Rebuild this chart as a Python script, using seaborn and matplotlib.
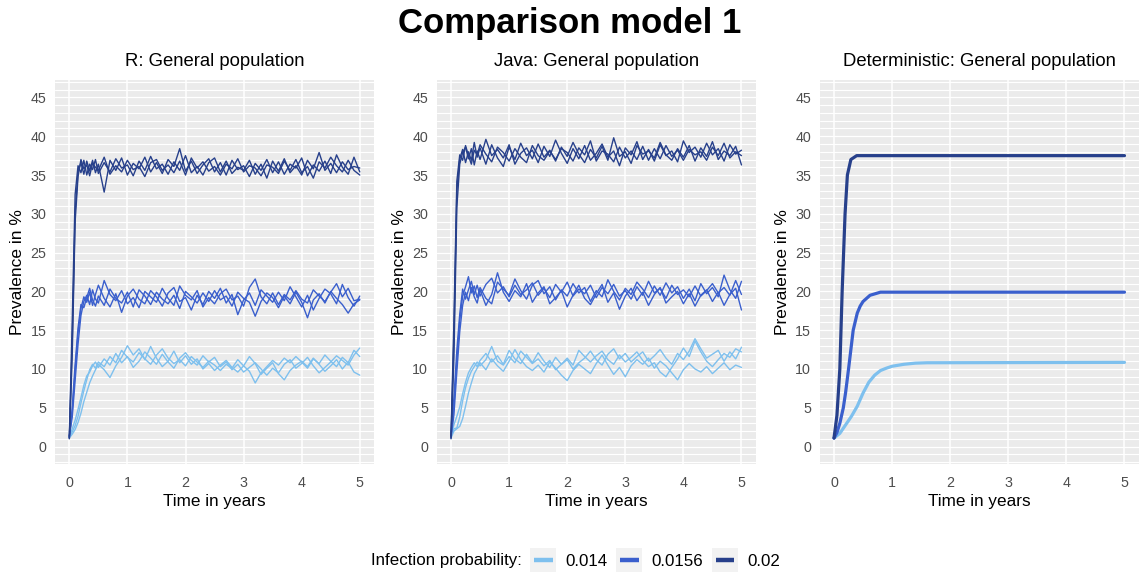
import numpy as np
import pandas as pd
import matplotlib
matplotlib.use("Agg")
import matplotlib.pyplot as plt
import seaborn as sns
from matplotlib.ticker import MultipleLocator
from matplotlib.lines import Line2D
from matplotlib.patches import Rectangle
from matplotlib.legend_handler import HandlerBase

# ---------------------------------------------------------------- data
LEVELS = ["0.014", "0.0156", "0.02"]
COLORS = ["#7EC0EE", "#3A5FCD", "#27408B"]
PANEL_TITLES = ["R: General population", "Java: General population",
                "Deterministic: General population"]
X_TICKS = [0, 1, 2, 3, 4, 5]
Y_TICKS = [0, 5, 10, 15, 20, 25, 30, 35, 40, 45]

# sampling times (years) of the stochastic runs
TIME_YEARS = [0.0, 0.05, 0.1, 0.15, 0.2, 0.25, 0.3, 0.35, 0.4, 0.45,
              0.5, 0.6, 0.7, 0.8, 0.9, 1.0, 1.1, 1.2, 1.3, 1.4,
              1.5, 1.6, 1.7, 1.8, 1.9, 2.0, 2.1, 2.2, 2.3, 2.4,
              2.5, 2.6, 2.7, 2.8, 2.9, 3.0, 3.1, 3.2, 3.3, 3.4,
              3.5, 3.6, 3.7, 3.8, 3.9, 4.0, 4.1, 4.2, 4.3, 4.4,
              4.5, 4.6, 4.7, 4.8, 4.9, 5.0]

# R simulation, prevalence in %
R_LOW_1 = [1.2, 1.9, 2.7, 3.9, 5.6, 7.2, 8.6, 9.9, 10.6, 10.1,
           10.9, 10.3, 11.6, 10.8, 12.4, 11.5, 10.9, 12.1, 11.3, 10.6,
           11.8, 12.6, 11.4, 10.7, 11.2, 10.4, 11.6, 10.9, 10.2, 11.0,
           10.5, 9.8, 10.6, 10.1, 11.2, 10.4, 9.7, 8.2, 9.5, 10.3,
           11.1, 10.5, 11.4, 10.8, 11.6, 10.9, 10.1, 11.3, 10.7, 11.8,
           11.0, 10.3, 11.5, 10.8, 12.4, 11.6]
R_LOW_2 = [1.1, 1.6, 2.2, 3.1, 4.3, 5.8, 7.0, 8.2, 9.1, 9.9,
           10.6, 9.9, 8.9, 10.4, 11.5, 13.0, 11.8, 12.6, 11.2, 12.9,
           11.4, 10.3, 11.0, 12.3, 10.8, 11.7, 10.6, 11.3, 10.0, 10.7,
           9.8, 10.5, 11.1, 10.2, 9.6, 10.4, 11.6, 10.7, 9.3, 10.1,
           10.8, 9.4, 8.6, 9.8, 10.5, 11.0, 10.3, 11.4, 10.6, 9.7,
           10.4, 11.2, 10.0, 10.9, 9.6, 9.2]
R_LOW_3 = [1.3, 2.3, 3.4, 4.8, 6.3, 7.9, 9.1, 9.6, 10.4, 10.9,
           10.2, 11.3, 10.5, 12.0, 10.8, 11.6, 10.2, 11.0, 12.2, 11.4,
           10.6, 11.9, 10.9, 10.1, 11.4, 12.1, 11.1, 10.5, 11.7, 10.9,
           11.5, 10.3, 10.9, 9.9, 10.6, 9.6, 10.2, 10.8, 10.0, 9.2,
           10.1, 9.5, 10.6, 11.2, 10.1, 10.7, 11.5, 10.4, 9.5, 10.2,
           10.9, 11.7, 11.1, 10.5, 11.8, 12.7]
R_MID_1 = [1.2, 4.5, 9.8, 14.6, 17.8, 19.3, 18.6, 19.9, 18.2, 19.6,
           20.8, 19.1, 18.0, 19.7, 17.3, 19.4, 20.3, 19.0, 18.4, 20.1,
           19.3, 18.1, 19.8, 20.5, 18.7, 19.2, 17.6, 19.5, 18.3, 20.0,
           19.1, 20.4, 18.5, 19.6, 17.0, 18.9, 19.8, 18.2, 20.2, 19.4,
           18.6, 19.9, 18.8, 20.6, 19.3, 18.0, 19.5, 17.6, 19.1, 20.3,
           19.7, 18.4, 20.9, 19.2, 18.1, 19.4]
R_MID_2 = [1.4, 3.8, 8.5, 13.2, 16.9, 18.7, 19.5, 18.3, 20.2, 19.0,
           18.5, 21.4, 19.6, 18.8, 20.1, 18.4, 19.2, 17.9, 20.0, 19.3,
           18.6, 20.4, 19.1, 18.2, 20.7, 19.5, 18.9, 20.1, 18.0, 19.2,
           18.4, 19.7, 20.3, 18.9, 19.4, 18.1, 20.5, 21.6, 19.3, 18.4,
           19.8, 18.3, 19.6, 18.9, 20.1, 19.0, 18.5, 20.2, 19.4, 18.7,
           19.9, 21.0, 19.3, 20.4, 18.8, 19.0]
R_MID_3 = [1.1, 5.0, 10.6, 15.3, 18.3, 17.9, 19.2, 20.4, 18.9, 18.1,
           19.4, 18.2, 20.3, 19.1, 18.5, 19.9, 18.0, 20.2, 19.4, 18.3,
           19.9, 19.0, 18.4, 19.5, 17.8, 20.0, 19.3, 18.5, 19.8, 18.7,
           20.1, 18.9, 19.4, 18.1, 19.9, 19.1, 18.6, 16.8, 18.7, 19.8,
           19.2, 17.9, 19.4, 18.4, 19.9, 18.6, 16.6, 18.9, 19.7, 18.5,
           20.0, 19.1, 18.3, 17.2, 18.4, 18.9]
R_HIGH_1 = [1.1, 13.5, 30.2, 35.4, 36.6, 35.1, 36.8, 35.5, 36.9, 35.3,
            36.4, 32.8, 36.9, 35.6, 37.2, 35.0, 36.5, 35.8, 37.3, 35.4,
            36.6, 35.2, 37.0, 36.1, 38.4, 35.5, 36.8, 35.2, 36.3, 37.1,
            35.4, 36.6, 35.0, 36.9, 35.7, 36.2, 34.8, 36.5, 35.6, 37.0,
            35.3, 36.7, 35.1, 36.4, 35.9, 37.2, 34.9, 36.3, 35.5, 36.8,
            35.2, 37.6, 36.0, 35.1, 37.3, 35.4]
R_HIGH_2 = [1.3, 16.1, 32.5, 36.2, 35.3, 36.9, 35.0, 36.4, 35.7, 37.0,
            35.2, 36.6, 35.4, 37.1, 35.9, 36.3, 34.9, 36.8, 35.6, 37.4,
            35.8, 36.4, 35.1, 36.7, 35.6, 37.5, 35.3, 36.1, 35.0, 36.6,
            37.2, 35.4, 36.8, 35.2, 36.0, 35.6, 36.9, 35.1, 36.4, 34.6,
            36.8, 35.5, 37.1, 35.3, 36.2, 35.0, 36.9, 35.8, 37.9, 35.6,
            36.5, 35.3, 36.7, 35.7, 36.1, 35.9]
R_HIGH_3 = [1.0, 11.8, 29.0, 34.8, 37.0, 35.8, 36.3, 34.9, 36.5, 36.0,
            35.6, 37.3, 35.1, 36.2, 35.4, 36.9, 35.7, 36.1, 34.8, 36.6,
            37.0, 35.6, 36.3, 35.3, 36.8, 35.0, 37.2, 35.9, 36.7, 35.5,
            36.1, 35.0, 36.4, 35.8, 37.1, 35.4, 36.2, 35.9, 34.9, 36.3,
            36.0, 35.2, 36.8, 35.6, 37.0, 35.3, 36.1, 34.6, 36.7, 35.9,
            37.3, 36.2, 35.4, 36.9, 35.6, 35.0]

# Java simulation, prevalence in %
J_LOW_1 = [1.3, 2.3, 2.4, 3.8, 5.9, 7.6, 8.8, 9.7, 10.3, 10.9,
           10.4, 11.2, 12.9, 11.0, 10.5, 11.6, 10.8, 12.3, 11.5, 10.7,
           11.3, 10.4, 11.1, 9.9, 10.6, 11.4, 10.5, 12.4, 11.6, 10.9,
           11.7, 12.3, 11.2, 10.6, 11.8, 10.9, 11.5, 12.2, 11.1, 10.3,
           10.8, 9.6, 9.0, 10.2, 11.3, 12.7, 11.6, 13.6, 12.2, 11.0,
           10.3, 11.2, 12.0, 11.5, 12.6, 12.2]
J_LOW_2 = [1.1, 2.0, 2.3, 2.6, 3.6, 5.2, 6.9, 8.2, 9.4, 10.1,
           10.8, 9.9, 11.3, 10.4, 9.7, 11.0, 12.5, 11.2, 10.3, 9.8,
           10.5, 9.6, 10.9, 10.1, 9.2, 8.5, 9.8, 10.6, 10.0, 9.4,
           10.7, 11.8, 10.5, 9.3, 10.2, 9.0, 10.4, 11.2, 10.6, 11.4,
           10.1, 11.0, 10.4, 9.5, 8.6, 9.9, 10.7, 10.0, 9.6, 10.3,
           9.4, 10.1, 10.8, 9.9, 10.5, 10.2]
J_LOW_3 = [1.4, 2.8, 3.9, 5.1, 6.8, 8.3, 9.5, 10.2, 10.8, 10.3,
           11.1, 12.0, 10.9, 11.7, 10.6, 12.4, 11.3, 10.7, 11.9, 10.8,
           12.1, 11.0, 10.2, 11.5, 10.6, 11.2, 10.0, 10.8, 11.4, 12.3,
           11.2, 10.5, 11.9, 12.6, 11.3, 12.0, 10.9, 11.6, 12.2, 11.0,
           11.7, 12.5, 11.4, 10.6, 12.0, 11.2, 12.3, 13.9, 12.6, 11.4,
           11.9, 12.4, 11.0, 12.2, 11.3, 12.8]
J_MID_1 = [1.3, 5.2, 11.0, 16.2, 19.4, 20.6, 21.9, 19.8, 20.7, 19.2,
           20.5, 19.1, 18.4, 21.2, 20.3, 19.5, 21.6, 20.1, 19.0, 20.8,
           21.4, 19.7, 20.6, 18.9, 20.2, 19.4, 21.0, 19.8, 20.5, 18.7,
           20.1, 19.3, 21.5, 20.0, 18.9, 20.4, 19.6, 21.2, 20.3, 19.2,
           20.7, 19.5, 21.1, 19.8, 20.6, 19.1, 20.3, 18.8, 21.0, 19.7,
           20.5, 19.3, 22.1, 20.2, 19.1, 21.3]
J_MID_2 = [1.1, 4.1, 9.6, 14.8, 18.2, 19.9, 18.8, 20.5, 19.3, 18.5,
           20.2, 18.2, 19.6, 22.4, 19.9, 18.7, 20.1, 19.3, 21.0, 18.6,
           19.8, 20.6, 18.4, 19.2, 20.1, 18.0, 19.5, 20.8, 19.1, 18.3,
           19.7, 20.9, 18.6, 19.8, 17.7, 19.4, 20.4, 18.8, 19.9, 18.2,
           19.6, 20.5, 18.5, 19.3, 20.0, 18.4, 19.7, 18.1, 19.5, 20.2,
           18.7, 19.9, 18.2, 19.6, 20.4, 17.6]
J_MID_3 = [1.5, 6.3, 12.4, 17.1, 20.3, 19.0, 20.2, 21.3, 19.6, 20.8,
           19.4, 20.9, 21.7, 19.8, 20.6, 19.3, 20.8, 19.6, 20.2, 21.1,
           19.5, 20.4, 19.2, 20.9, 19.9, 21.2, 19.4, 20.3, 19.7, 20.8,
           19.2, 20.5, 19.7, 20.9, 19.4, 20.1, 19.0, 20.6, 19.5, 21.3,
           19.8, 20.4, 19.1, 20.8, 19.6, 20.2, 19.3, 20.7, 19.4, 20.1,
           21.0, 19.8, 20.5, 19.5, 21.4, 19.6]
J_HIGH_1 = [1.2, 14.2, 33.0, 37.1, 38.3, 36.6, 38.0, 36.9, 39.2, 37.3,
            38.5, 36.4, 38.9, 37.2, 36.1, 38.6, 37.0, 39.1, 37.5, 38.2,
            36.6, 38.7, 37.4, 39.5, 37.8, 36.5, 38.4, 37.1, 38.8, 36.9,
            37.8, 39.0, 37.3, 38.1, 36.2, 38.5, 37.6, 39.3, 37.0, 38.3,
            36.8, 38.9, 37.5, 38.1, 36.7, 39.4, 37.9, 38.6, 37.3, 39.1,
            37.6, 38.4, 36.8, 38.9, 37.7, 38.2]
J_HIGH_2 = [1.0, 11.5, 30.8, 36.4, 37.9, 38.6, 37.1, 38.4, 36.3, 38.1,
            37.0, 39.6, 37.5, 38.3, 37.2, 38.9, 36.4, 37.8, 38.5, 37.1,
            39.0, 37.3, 38.2, 36.8, 38.6, 37.4, 39.2, 37.7, 36.6, 38.3,
            37.2, 38.7, 36.9, 39.8, 37.4, 38.0, 36.5, 38.8, 37.7, 38.1,
            37.2, 39.2, 37.6, 36.9, 38.4, 37.3, 38.8, 36.8, 38.5, 37.4,
            39.3, 37.0, 38.1, 37.5, 38.7, 36.3]
J_HIGH_3 = [1.4, 16.3, 34.2, 37.6, 36.9, 38.8, 37.5, 36.4, 38.2, 37.6,
            38.9, 37.7, 36.7, 38.6, 37.9, 36.8, 38.4, 37.3, 36.6, 38.8,
            37.5, 36.9, 38.1, 37.0, 38.4, 37.9, 36.8, 38.5, 37.6, 39.4,
            36.8, 38.1, 37.7, 36.7, 38.6, 37.2, 38.1, 37.0, 38.7, 36.9,
            38.4, 37.1, 38.8, 37.4, 38.2, 36.9, 38.3, 37.6, 38.0, 36.9,
            38.6, 37.5, 39.1, 37.2, 38.0, 37.5]

# deterministic model, prevalence in %
DET_LOW_T = [0.0, 0.1, 0.2, 0.3, 0.4, 0.5, 0.6, 0.7, 0.8, 0.9, 1.0, 1.2, 1.4, 1.6, 5.0]
DET_LOW = [1.1, 1.7, 2.8, 3.9, 5.2, 6.9, 8.3, 9.2, 9.8, 10.1, 10.35, 10.6, 10.75, 10.8, 10.85]
DET_MID_T = [0.0, 0.05, 0.1, 0.16, 0.2, 0.25, 0.33, 0.4, 0.45, 0.5, 0.62, 0.8, 5.0]
DET_MID = [1.1, 1.8, 3.0, 5.0, 7.0, 10.0, 15.0, 17.2, 18.1, 18.7, 19.5, 19.9, 19.9]
DET_HIGH_T = [0.0, 0.05, 0.1, 0.14, 0.19, 0.23, 0.29, 0.39, 5.0]
DET_HIGH = [1.1, 4.0, 10.0, 20.0, 30.0, 35.0, 37.0, 37.5, 37.5]


def runs_frame(runs_by_level):
    rows = []
    for level, runs in runs_by_level.items():
        for k, run in enumerate(runs):
            if len(run) != len(TIME_YEARS):
                raise ValueError(f"run {level}/{k} has {len(run)} values")
            rows += [(level, k, t, v) for t, v in zip(TIME_YEARS, run)]
    return pd.DataFrame(rows, columns=["prob", "run", "time", "prev"])


r_df = runs_frame({"0.014": [R_LOW_1, R_LOW_2, R_LOW_3],
                   "0.0156": [R_MID_1, R_MID_2, R_MID_3],
                   "0.02": [R_HIGH_1, R_HIGH_2, R_HIGH_3]})
j_df = runs_frame({"0.014": [J_LOW_1, J_LOW_2, J_LOW_3],
                   "0.0156": [J_MID_1, J_MID_2, J_MID_3],
                   "0.02": [J_HIGH_1, J_HIGH_2, J_HIGH_3]})
det_rows = []
for level, ts, vs in [("0.014", DET_LOW_T, DET_LOW),
                      ("0.0156", DET_MID_T, DET_MID),
                      ("0.02", DET_HIGH_T, DET_HIGH)]:
    det_rows += [(level, 0, t, v) for t, v in zip(ts, vs)]
d_df = pd.DataFrame(det_rows, columns=["prob", "run", "time", "prev"])

PALETTE = dict(zip(LEVELS, COLORS))

# ---------------------------------------------------------------- style
sns.set_theme(style="darkgrid", rc={
    "axes.facecolor": "#EBEBEB",
    "grid.color": "white",
    "axes.edgecolor": "none",
    "xtick.color": "#333333",
    "ytick.color": "#333333",
    "text.color": "black",
    "axes.labelcolor": "black",
})
plt.rcParams["font.family"] = ["Liberation Sans", "DejaVu Sans"]

W, H = 1140, 572
fig = plt.figure(figsize=(W / 100, H / 100), dpi=100)
fig.patch.set_facecolor("white")

panel_px = [(54.8, 80, 374.3, 464), (436.5, 80, 756.0, 464), (819.5, 80, 1139.0, 464)]
frames = [(r_df, 1.0), (j_df, 1.0), (d_df, 2.3)]

for (x0, y0, x1, y1), (df, lw), title in zip(panel_px, frames, PANEL_TITLES):
    ax = fig.add_axes([x0 / W, 1 - y1 / H, (x1 - x0) / W, (y1 - y0) / H])
    sns.lineplot(data=df, x="time", y="prev", hue="prob", units="run",
                 estimator=None, hue_order=LEVELS, palette=PALETTE,
                 linewidth=lw, legend=False, sort=False, ax=ax)
    ax.set_xlim(-0.25, 5.25)
    ax.set_ylim(-2.25, 47.25)
    ax.set_xticks(X_TICKS)
    ax.set_yticks(Y_TICKS)
    ax.yaxis.set_minor_locator(MultipleLocator(1))
    ax.grid(which="major", axis="x", color="white", linewidth=1.1)
    ax.grid(which="major", axis="y", color="white", linewidth=0.9)
    ax.grid(which="minor", axis="y", color="white", linewidth=0.8)
    ax.tick_params(which="major", length=3.5, width=0.8,
                   labelsize=10.3, labelcolor="#4D4D4D")
    ax.tick_params(axis="x", which="major", pad=5.0)
    ax.tick_params(axis="y", which="major", pad=2.5)
    ax.tick_params(which="minor", length=0)
    for s in ax.spines.values():
        s.set_visible(False)
    ax.set_xlabel("Time in years", fontsize=12.3, labelpad=3, color="black")
    ax.set_ylabel("Prevalence in %", fontsize=12.5, labelpad=4, color="black")
    ax.set_title(title, fontsize=13.3, pad=10, color="black")

fig.suptitle("Comparison model 1", fontsize=25, fontweight="bold",
             x=0.5, y=1 - 24 / H, va="center", color="black")


# legend: grey key box with a short coloured bar
class KeyHandler(HandlerBase):
    def create_artists(self, legend, orig_handle, xdescent, ydescent,
                       width, height, fontsize, trans):
        bg = Rectangle((-xdescent, -ydescent - 0.3 * height), width, height * 1.6,
                       facecolor="#F2F2F2", edgecolor="none", transform=trans)
        inset = 0.14 * width
        yc = -ydescent + height / 2
        bar = Line2D([-xdescent + inset, -xdescent + width - inset], [yc, yc],
                     color=orig_handle.get_color(), linewidth=3.2,
                     solid_capstyle="butt", transform=trans)
        return [bg, bar]


handles = [Line2D([], [], color=c) for c in COLORS]
leg_y = 1 - 561 / H
fig.legend(handles, LEVELS, handler_map={Line2D: KeyHandler()},
           loc="center left", bbox_to_anchor=(530 / W, leg_y), ncol=3,
           frameon=False, fontsize=12.2, handlelength=1.55, handleheight=1.0,
           handletextpad=0.55, columnspacing=0.5, borderpad=0, borderaxespad=0)
fig.text(522 / W, leg_y, "Infection probability:", fontsize=12.2,
         ha="right", va="center", color="black")

fig.savefig("out.png", dpi=100)
